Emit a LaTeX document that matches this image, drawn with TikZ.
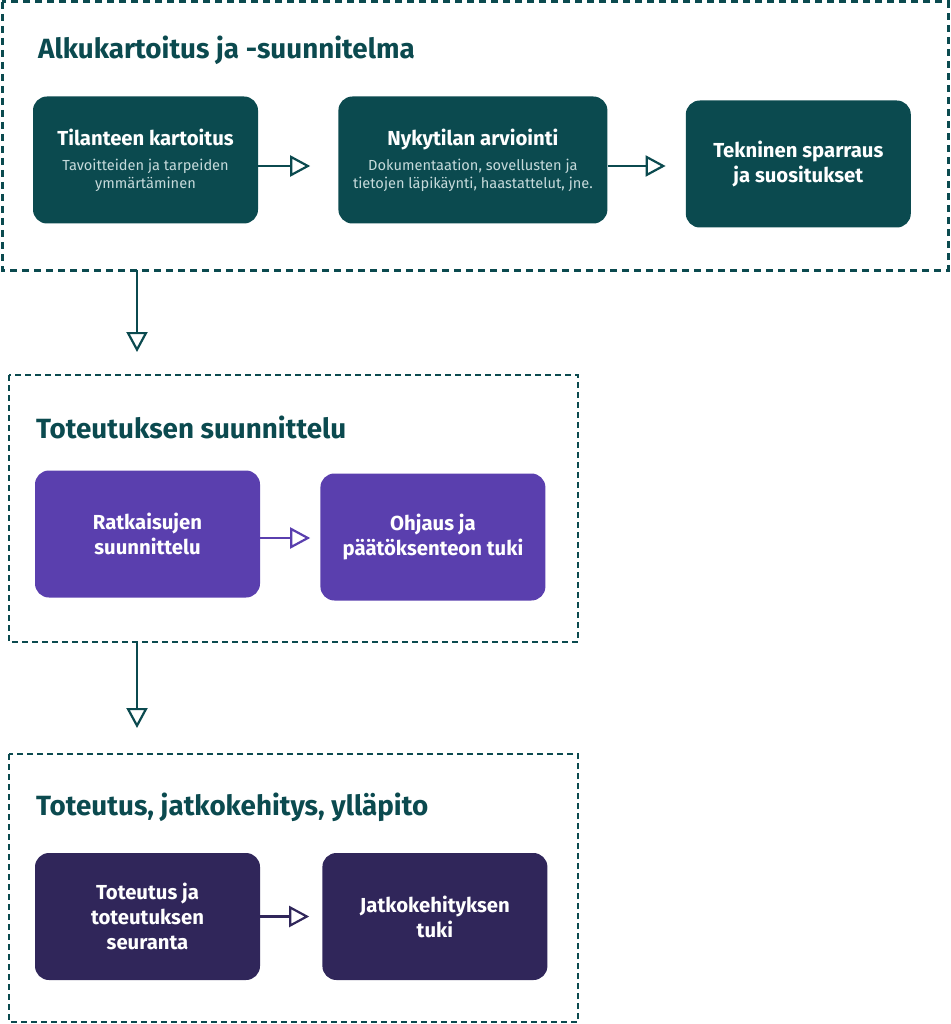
\documentclass[tikz,border=0pt]{standalone}
\usepackage{fontspec}
\setmainfont{Fira Sans}
\usetikzlibrary{arrows.meta, positioning}
\definecolor{kmteal}{HTML}{0B4A4F}
\definecolor{kmpurple}{HTML}{5A3FAE}
\definecolor{kmdark}{HTML}{30265A}
\definecolor{kmsub}{HTML}{C6DADB}
\newcommand{\kmsubtxt}{\fontsize{14.6}{18}\selectfont\mdseries\color{kmsub}}

\begin{document}
\begin{tikzpicture}[x=1pt, y=-1pt,
    phasebox/.style={rectangle, rounded corners=14pt, draw=none, text=white, align=center,
                 font=\fontsize{20.3}{25}\selectfont\bfseries, minimum height=127pt, minimum width=225pt, inner sep=0pt},
    phasetitle/.style={anchor=west, text=kmteal, font=\fontsize{27.8}{32}\selectfont\bfseries, inner sep=0pt},
    frame/.style={draw=kmteal, line width=2.5pt, dash pattern=on 6pt off 4pt},
    arr/.style={-{Triangle[open, length=20pt, width=21pt, line width=2.2pt]}, line width=2.2pt}
  ]
    \useasboundingbox (0,0) rectangle (950,1024);
    % ryhmien kehykset
    \draw[frame, line width=3pt, dash pattern=on 7pt off 5pt] (2,2) rectangle (948,270);
    \draw[frame] (9,375) rectangle (578,642);
    \draw[frame] (9,754) rectangle (578,1022);
    % otsikot
    \node[phasetitle] (t1) at (38,50) {Alkukartoitus ja -suunnitelma};
    \node[phasetitle] (t2) at (36,427) {Toteutuksen suunnittelu};
    \node[phasetitle] (t3) at (36,807) {Toteutus, jatkokehitys, ylläpito};
    % alkukartoitus
    \node[phasebox, fill=kmteal] (a) at (145.5,160) {Tilanteen kartoitus\\
        \kmsubtxt Tavoitteiden ja tarpeiden\\[-7pt] \kmsubtxt ymmärtäminen};
    \node[phasebox, fill=kmteal, minimum width=269pt, right=80pt of a] (b) {Nykytilan arviointi\\
        \kmsubtxt Dokumentaation, sovellusten ja\\[-7pt] \kmsubtxt tietojen läpikäynti, haastattelut, jne.};
    \node[phasebox, fill=kmteal, right=78pt of b, yshift=-4pt] (c) {Tekninen sparraus\\ ja suositukset};
    % toteutuksen suunnittelu
    \node[phasebox, fill=kmpurple] (d) at (147.5,534) {Ratkaisujen\\ suunnittelu};
    \node[phasebox, fill=kmpurple, right=60pt of d, yshift=-3pt] (e) {Ohjaus ja\\ päätöksenteon tuki};
    % toteutus
    \node[phasebox, fill=kmdark] (f) at (147.5,916.5) {Toteutus ja\\ toteutuksen\\ seuranta};
    \node[phasebox, fill=kmdark, right=62pt of f] (g) {Jatkokehityksen\\ tuki};
    % nuolet
    \coordinate (ab) at ([shift={(52pt,-6pt)}]a.east);
    \coordinate (bc) at ([shift={(58pt,-6pt)}]b.east |- a.east);
    \coordinate (de) at ([shift={(50pt,-4pt)}]d.east);
    \coordinate (fg) at ([xshift=49pt]f.east);
    \draw[arr, draw=kmteal] ([yshift=-6pt]a.east) -- (ab);
    \draw[arr, draw=kmteal] ([yshift=-6pt]b.east |- a.east) -- (bc);
    \draw[arr, draw=kmpurple] ([yshift=-4pt]d.east) -- (de);
    \draw[arr, draw=kmdark] (f.east) -- (fg);
    \coordinate (s1) at (137,270);
    \coordinate (s2) at (137,352);
    \coordinate (s3) at (137,642);
    \coordinate (s4) at (137,728);
    \draw[arr, draw=kmteal] (s1) -- (s2);
    \draw[arr, draw=kmteal] (s3) -- (s4);
  \end{tikzpicture}
\end{document}
